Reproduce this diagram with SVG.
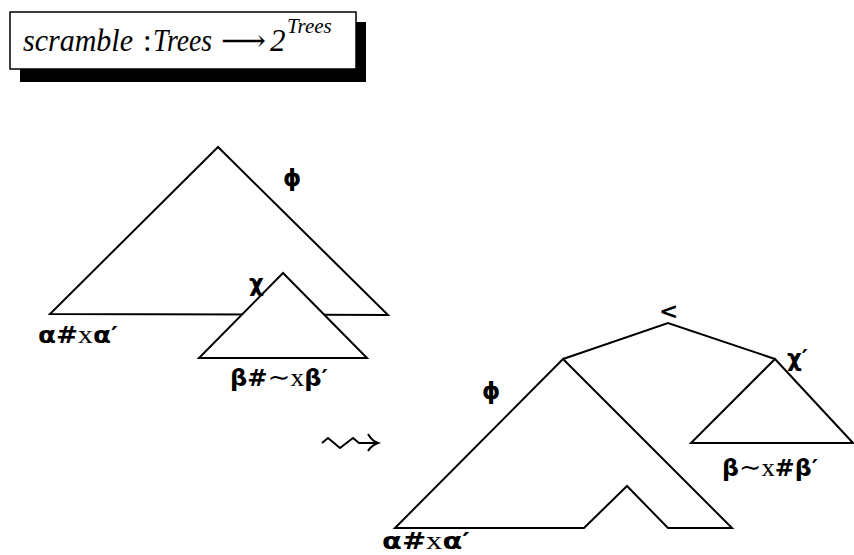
<svg xmlns="http://www.w3.org/2000/svg" width="854" height="555" viewBox="0 0 854 555">
<style>
.ln{fill:none;stroke:#000;stroke-width:2;stroke-linejoin:miter}
.tri{fill:#fff;stroke:#000;stroke-width:2}
.g{font-family:"DejaVu Sans","Liberation Sans",sans-serif;font-weight:bold;font-size:23px;fill:#000}
.x{font-family:"Liberation Serif","DejaVu Serif",serif;font-weight:normal;font-size:26px}
.t{font-family:"Liberation Serif","DejaVu Serif",serif;font-size:31px;fill:#000}
.i{font-style:italic}
</style>
<rect width="854" height="555" fill="#fff"/>
<g id="title">
<rect x="20" y="22" width="346" height="60" fill="#000"/>
<rect x="10" y="12" width="346" height="57" fill="#fff" stroke="#000" stroke-width="1.5"/>
<text class="t" y="51"><tspan class="i" x="23" textLength="110" lengthAdjust="spacingAndGlyphs">scramble</tspan><tspan x="143">:</tspan><tspan class="i" x="153" textLength="59" lengthAdjust="spacingAndGlyphs">Trees</tspan><tspan x="221" textLength="45" lengthAdjust="spacingAndGlyphs">⟶</tspan><tspan class="i" x="270">2</tspan><tspan class="i" x="287" y="33" font-size="21">Trees</tspan></text>
</g>
<g id="tree-phi">
<polygon class="tri" points="218,147 50,314 388,315"/>
<text class="g" x="283" y="186">ϕ</text>
</g>
<g id="tree-chi">
<polygon class="tri" points="283,273 199,358 367,358"/>
<text class="g" x="249" y="291" font-size="25">χ</text>
</g>
<g id="label-alpha1"><text class="g" x="38" y="343" textLength="80" lengthAdjust="spacingAndGlyphs">α#<tspan class="x">x</tspan>α′</text></g>
<g id="label-beta1"><text class="g" x="230" y="386" textLength="98" lengthAdjust="spacingAndGlyphs">β#<tspan class="x">∼x</tspan>β′</text></g>
<g id="leadsto">
<path class="ln" stroke-width="2.3" d="M322,443 L328,438 L340,448 L353,438 L359,443 L377,443 M368,434 Q372,441 378,443 Q372,445 368,451"/>
</g>
<g id="connectors">
<polyline class="ln" points="563,359 668,323 775,359"/>
</g>
<g id="root"><text class="g" x="659" y="319" font-size="24">&lt;</text></g>
<g id="tree-phi2">
<polygon class="tri" points="563,359 395,528 584,528 627,486 668,528 732,528"/>
<text class="g" x="482" y="399">ϕ</text>
</g>
<g id="tree-chi2">
<polygon class="tri" points="775,359 691,443 853,443"/>
<text class="g" x="787" y="366" font-size="25">χ′</text>
</g>
<g id="label-beta2"><text class="g" x="722" y="476" textLength="96" lengthAdjust="spacingAndGlyphs">β<tspan class="x">∼x</tspan>#β′</text></g>
<g id="label-alpha2"><text class="g" x="382" y="549" textLength="88" lengthAdjust="spacingAndGlyphs">α#<tspan class="x">x</tspan>α′</text></g>
</svg>
